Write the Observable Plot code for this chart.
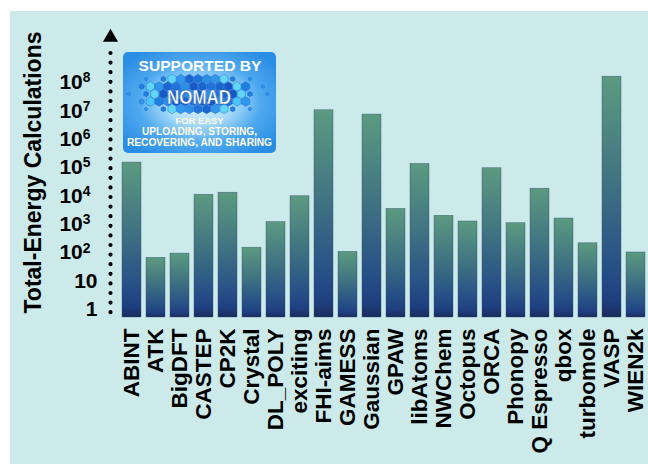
<!DOCTYPE html>
<html>
<head>
<meta charset="utf-8">
<script src="https://cdn.jsdelivr.net/npm/d3@7"></script>
<script src="https://cdn.jsdelivr.net/npm/@observablehq/plot@0.6"></script>
<style>
html,body{margin:0;padding:0;background:#ffffff;width:648px;height:464px;overflow:hidden;font-family:"Liberation Sans",Arial,sans-serif;}
#panel{position:absolute;left:10px;top:11px;width:638px;height:453px;background:#cdeaea;}
#chart{position:absolute;left:0;top:0;}
#logo{position:absolute;left:123px;top:52px;}
</style>
</head>
<body>
<div id="panel"></div>
<div id="chart"></div>
<div id="logo"></div>
<script>
// ---- data ----
const names = ["ABINT","ATK","BigDFT","CASTEP","CP2K","Crystal","DL_POLY","exciting","FHI-aims","GAMESS","Gaussian","GPAW","libAtoms","NWChem","Octopus","ORCA","Phonopy","Q Espresso","qbox","turbomole","VASP","WIEN2k"];
const counts = [1.5e5, 66, 93, 1.1e4, 1.3e4, 150, 1.2e3, 9.8e3, 1.05e7, 107, 7.4e6, 3.5e3, 1.35e5, 2.0e3, 1.26e3, 9.5e4, 1.1e3, 1.8e4, 1.6e3, 215, 1.6e8, 102];
const yTicks = [1, 10, 1e2, 1e3, 1e4, 1e5, 1e6, 1e7, 1e8];
const yTickLabels = ["1", "10", "10^2", "10^3", "10^4", "10^5", "10^6", "10^7", "10^8"];
const yTitle = "Total-Energy Calculations";
const logoLines = ["SUPPORTED BY", "NOMAD", "FOR EASY", "UPLOADING, STORING,", "RECOVERING, AND SHARING"];

const base = 0.52;
const table = names.map((n, i) => ({name: n, value: counts[i]}));

const plot = Plot.plot({
  width: 648,
  height: 464,
  marginLeft: 120,
  marginRight: 0,
  marginTop: 53,
  marginBottom: 147,
  style: {background: "transparent", color: "black", fontFamily: '"Liberation Sans", Arial, sans-serif', fontWeight: "bold", fontSize: "21px"},
  x: {domain: names, paddingInner: 0.2, paddingOuter: 0.1},
  y: {type: "log", domain: [base, 1e8], range: [317, 82]},
  marks: [
    Plot.rectY(table, {x: "name", y1: () => base, y2: "value", fill: "url(#barGrad)", stroke: "#27456a", strokeWidth: 0.6, strokeOpacity: 0.6}),
    Plot.ruleX(names.slice(0, 1), {dx: -21.5, stroke: "black", strokeWidth: 4.2, strokeDasharray: "0 9.6", strokeLinecap: "round"}),
    Plot.dot(names.slice(0, 1), {x: d => d, frameAnchor: "top", symbol: "triangle", r: 5.6, dx: -21.5, dy: -16, fill: "black", stroke: "none"}),
    Plot.axisX({tickRotate: -90, tickSize: 0, tickPadding: 11, fontSize: 22.5, fontWeight: "bold", label: null}),
    Plot.axisY({ticks: yTicks, tickFormat: d => yTickLabels[yTicks.indexOf(d)], tickSize: 0, tickPadding: 23, fontSize: 21, fontWeight: "bold", label: null}),
    Plot.text([yTitle], {text: d => d, frameAnchor: "left", textAnchor: "middle", rotate: -90, dx: -86.5, dy: -13, fontSize: 23, fontWeight: "bold", fill: "black"})
  ]
});

// gradient definition for bars
const svg = d3.select(plot);
const defs = svg.insert("defs", ":first-child");
const g = defs.append("linearGradient").attr("id", "barGrad").attr("x1", 0).attr("y1", 0).attr("x2", 0).attr("y2", 1);
[[0, "#5c9a80"], [0.45, "#3f7282"], [0.8, "#264f86"], [0.93, "#1f3f80"], [1, "#1b2b5c"]].forEach(([o, c]) =>
  g.append("stop").attr("offset", o).attr("stop-color", c));

// superscripts on y tick labels
svg.selectAll('g[aria-label="y-axis tick label"] text').each(function() {
  const t = d3.select(this);
  const s = t.text();
  if (s.includes("^")) {
    const [b, e] = s.split("^");
    t.text(b);
    t.append("tspan").attr("dy", "-0.5em").attr("font-size", "0.66em").text(e);
    t.attr("dx", -7);
  }
});

document.getElementById("chart").appendChild(plot);

// ---- NOMAD logo (decoration) ----
const W = 153, H = 101;
const ls = d3.select("#logo").append("svg").attr("width", W).attr("height", H)
  .style("font-family", '"Liberation Sans", Arial, sans-serif').style("font-weight", "bold");
const ld = ls.append("defs");
const rg = ld.append("radialGradient").attr("id", "logoBg").attr("cx", 0.5).attr("cy", 0.5).attr("r", 0.62);
[[0, "#e6f6ff"], [0.35, "#a9dcfa"], [0.65, "#4fa9ef"], [1, "#2a8de4"]].forEach(([o, c]) =>
  rg.append("stop").attr("offset", o).attr("stop-color", c));
ls.append("rect").attr("width", W).attr("height", H).attr("rx", 5).attr("fill", "url(#logoBg)");

// honeycomb cluster
const cx = 75, cy = 42, rx = 58, ry = 22, hr = 5;
const hexPath = r => d3.range(6).map(k => {
  const a = Math.PI / 6 + k * Math.PI / 3;
  return [r * Math.cos(a), r * Math.sin(a)];
});
const outerColors = ["#2f97ec", "#4cc6f5", "#1f7fe0", "#62d6f7"];
const innerColors = ["#1659c4", "#1a66d0", "#1f74da", "#2d8ee6"];
for (let j = -4; j <= 4; j++) {
  for (let i = -9; i <= 9; i++) {
    const x = cx + i * hr * Math.sqrt(3) + (j % 2 ? hr * Math.sqrt(3) / 2 : 0);
    const y = cy + j * hr * 1.5;
    if (y > 63 || y < 24) continue;
    const d = ((x - cx) / rx) ** 2 + ((y - cy) / ry) ** 2;
    let size = 0;
    if (d < 0.8) size = hr * 0.95;
    else if (d < 1.25 && (i + j) % 2 === 0) size = hr * 0.55;
    else if (d < 1.7 && (i * 3 + j) % 4 === 0) size = hr * 0.35;
    if (!size) continue;
    const pal = d < 0.5 ? innerColors : outerColors;
    const col = pal[Math.abs(i * 7 + j * 5) % 4];
    ls.append("polygon").attr("points", hexPath(size).map(p => [x + p[0], y + p[1]].join(",")).join(" "))
      .attr("fill", col).attr("stroke", "#1a5fc4").attr("stroke-width", 0.4);
  }
}

const txt = (s, x, y, size, len, fill) => ls.append("text").attr("x", x).attr("y", y)
  .attr("text-anchor", "middle").attr("font-size", size).attr("fill", fill)
  .attr("textLength", len).attr("lengthAdjust", "spacingAndGlyphs").text(s);
txt(logoLines[0], 77, 18.5, 15, 123, "#ffffff");
txt(logoLines[1], 76, 51.5, 21, 64, "#ffffff").attr("stroke", "#0f4fb0").attr("stroke-width", 0.4);
txt(logoLines[2], 76.5, 71.5, 9.5, 48, "#fffbe6");
txt(logoLines[3], 76.5, 82.5, 10, 115, "#fffbe6");
txt(logoLines[4], 76.5, 93.5, 10, 145, "#fffbe6");
</script>
</body>
</html>
